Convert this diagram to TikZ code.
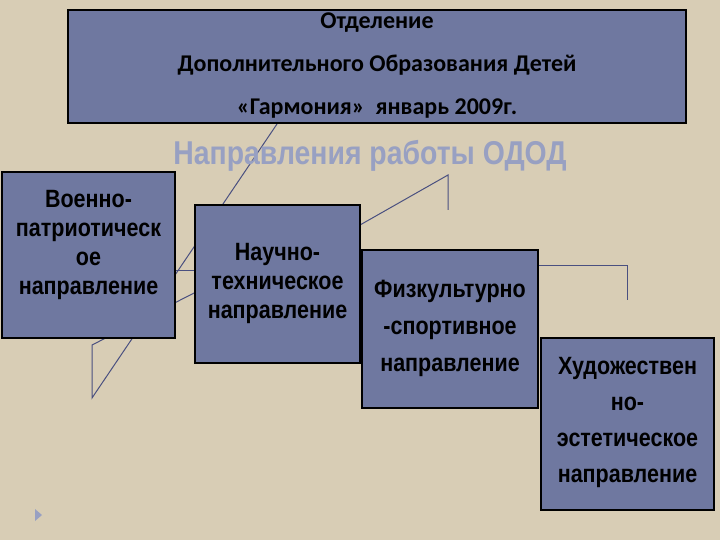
\documentclass[tikz,border=0pt]{standalone}
\usepackage{fontspec}
\setmainfont{Liberation Sans}
\newfontfamily\calib{Carlito}
\newfontfamily\narrow[FakeStretch=0.86]{Liberation Sans}
\definecolor{bg}{HTML}{D8CDB5}
\definecolor{boxf}{HTML}{6F78A0}
\definecolor{ttl}{HTML}{98A0C2}
\definecolor{ln}{HTML}{4A5080}
\begin{document}
\begin{tikzpicture}[x=1pt,y=-1pt,
 bx/.style={draw=black,line width=1.5pt,fill=boxf},
 lb/.style={font=\narrow\bfseries\fontsize{25}{29}\selectfont,align=center},
 ln/.style={draw=ln,line width=1pt}]
\fill[bg] (0,0) rectangle (720,540);
\useasboundingbox (0,0) rectangle (720,540);
\coordinate (t1) at (92,398); \coordinate (t2) at (92,345);
\coordinate (a1) at (277,124); \coordinate (a2) at (200,290);
\coordinate (a3) at (200,270); \coordinate (a4) at (175,270);
\coordinate (b1) at (448,175); \coordinate (b2) at (448,210);
\coordinate (c1) at (627,265); \coordinate (c2) at (627,300);
\draw[ln] (a1) -- (t1) -- (t2) -- (a2);
\draw[ln] (a4) -- (a3);
\draw[ln] (360,225) -- (b1) -- (b2);
\draw[ln] (538,265) -- (c1) -- (c2);
\node[bx,minimum width=618,minimum height=113] (top) at (377,66.5) {};
\node[font=\calib\bfseries\fontsize{24}{43}\selectfont,align=center] at (377,66) {Отделение\\Дополнительного Образования Детей\\«Гармония»\ \ январь 2009г.};
\node[text=ttl,font=\narrow\bfseries\fontsize{33}{35}\selectfont] (title) at (370,156) {Направления работы ОДОД};
\node[bx,minimum width=173,minimum height=166] (v) at (88.5,255) {};
\node[lb,font=\narrow\bfseries\fontsize{25}{29}\selectfont] at (88.5,245) {Военно-\\патриотическ\\ое\\направление};
\node[bx,minimum width=165,minimum height=158] (n) at (277.5,284) {};
\node[lb] at (277.5,283) {Научно-\\техническое\\направление};
\node[bx,minimum width=176,minimum height=158] (f) at (450,329) {};
\node[lb,font=\narrow\bfseries\fontsize{25}{37}\selectfont] at (450,328) {Физкультурно\\-спортивное\\направление};
\node[bx,minimum width=173,minimum height=172] (h) at (627.5,424) {};
\node[lb,font=\narrow\bfseries\fontsize{25}{36}\selectfont] at (627.5,422) {Художествен\\но-\\эстетическое\\направление};
\fill[ttl] (35,509) -- (35,521) -- (42,515) -- cycle;
\end{tikzpicture}
\end{document}
